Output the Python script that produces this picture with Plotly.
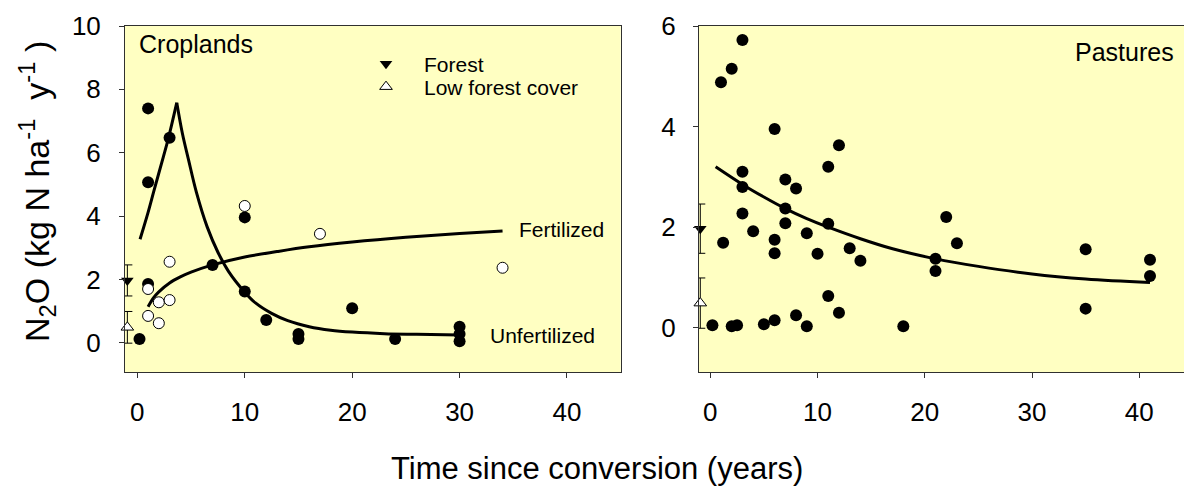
import plotly.graph_objects as go

# ---------------- data ----------------
# Croplands, unfertilized (filled circles)
crop_unf_x = [0.2, 1, 1, 3, 1, 7, 10, 10, 12, 15, 15, 20, 24, 30, 30, 30]
crop_unf_y = [0.12, 7.40, 5.07, 6.47, 1.86, 2.46, 3.96, 1.62, 0.72, 0.28, 0.12, 1.09, 0.12, 0.51, 0.28, 0.05]
# Croplands, fertilized (open circles)
crop_fert_x = [1, 1, 2, 2, 3, 3, 10, 17, 34]
crop_fert_y = [1.70, 0.85, 1.28, 0.62, 2.56, 1.35, 4.32, 3.44, 2.37]
# Fitted curves
unf_rise_x = [0.25, 1.0, 1.56, 2.42, 2.9, 3.67]
unf_rise_y = [3.27, 4.12, 4.82, 5.87, 6.47, 7.58]
unf_decay_x = [3.67, 4.2, 4.75, 5.5, 6.5, 7.5, 8.5, 10, 11, 12.5, 14, 16, 18, 20, 23, 26, 30]
unf_decay_y = [7.58, 6.60, 5.80, 4.75, 3.66, 2.86, 2.25, 1.60, 1.26, 0.93, 0.70, 0.51, 0.40, 0.34, 0.29, 0.27, 0.25]
fert_curve_x = [1.0, 1.5, 2, 3, 4, 5, 7, 10, 13, 16, 20, 25, 30, 34]
fert_curve_y = [1.14, 1.42, 1.61, 1.89, 2.08, 2.23, 2.46, 2.71, 2.88, 3.03, 3.18, 3.33, 3.45, 3.53]

# Pastures (filled circles)
past_x = [3, 2, 1, 6, 12, 11, 3, 3, 7, 8, 7, 3, 7, 11, 4, 9, 1.2, 6, 6, 10, 13, 14, 21, 21,
          11, 12, 8, 6, 0.2, 2, 2.5, 5, 9, 18, 22, 23, 35, 35, 41, 41]
past_y = [5.72, 5.15, 4.88, 3.95, 3.63, 3.20, 3.10, 2.80, 2.95, 2.77, 2.37, 2.27, 2.08, 2.07, 1.92, 1.88, 1.69, 1.75, 1.48, 1.47, 1.58, 1.33, 1.37, 1.13,
          0.63, 0.30, 0.25, 0.15, 0.05, 0.03, 0.05, 0.07, 0.03, 0.03, 2.20, 1.68, 1.56, 0.38, 1.35, 1.03]
past_curve_x = [0.5, 3, 5, 7, 9, 11, 14, 17, 21, 25, 30, 35, 41]
past_curve_y = [3.20, 2.85, 2.60, 2.37, 2.17, 2.00, 1.77, 1.57, 1.37, 1.22, 1.07, 0.97, 0.90]

# Reference values (mean +/- error)
ref_x = [-0.93]
forest_y = [1.97]
forest_err = [0.49]
lowforest_y = [0.49]
lowforest_err = [0.50]

FONT = "Arial, Liberation Sans, sans-serif"
BG = "rgb(255,255,194)"

fig = go.Figure()

def add(tr, panel):
    if panel == 2:
        tr.update(xaxis="x2", yaxis="y2")
    fig.add_trace(tr)

line_style = dict(color="black", width=3, shape="spline")
# Croplands curves
add(go.Scatter(x=unf_rise_x, y=unf_rise_y, mode="lines", line=line_style, showlegend=False), 1)
add(go.Scatter(x=unf_decay_x, y=unf_decay_y, mode="lines", line=line_style, showlegend=False), 1)
add(go.Scatter(x=fert_curve_x, y=fert_curve_y, mode="lines", line=line_style, showlegend=False), 1)
# Croplands points
add(go.Scatter(x=crop_unf_x, y=crop_unf_y, mode="markers",
               marker=dict(symbol="circle", size=12, color="black"), showlegend=False, cliponaxis=False), 1)
add(go.Scatter(x=crop_fert_x, y=crop_fert_y, mode="markers",
               marker=dict(symbol="circle", size=11, color="white", line=dict(color="black", width=1)),
               showlegend=False), 1)

# Reference markers for both panels
for p in (1, 2):
    add(go.Scatter(x=ref_x, y=forest_y, mode="markers", name="Forest", showlegend=(p == 1),
                   legend="legend",
                   error_y=dict(type="data", array=forest_err, color="black", thickness=1, width=5),
                   marker=dict(symbol="triangle-down", size=11, color="black"), cliponaxis=False), p)
    add(go.Scatter(x=ref_x, y=lowforest_y, mode="markers", name="Low forest cover", showlegend=(p == 1),
                   legend="legend2",
                   error_y=dict(type="data", array=lowforest_err, color="black", thickness=1, width=5),
                   marker=dict(symbol="triangle-up", size=11, color="white", line=dict(color="black", width=1)),
                   cliponaxis=False), p)

# Pastures
add(go.Scatter(x=past_curve_x, y=past_curve_y, mode="lines", line=line_style, showlegend=False), 2)
add(go.Scatter(x=past_x, y=past_y, mode="markers",
               marker=dict(symbol="circle", size=12, color="black"), showlegend=False, cliponaxis=False), 2)

W, H = 1184, 486
y_dom = [(H - 372) / H, (H - 26) / H]

axis_common = dict(showline=True, linecolor="#303030", linewidth=1, ticks="outside", ticklen=5,
                   tickcolor="#303030", showgrid=False, zeroline=False, automargin=False,
                   tickfont=dict(family=FONT, size=26, color="black"))

leg_common = dict(xanchor="left", yanchor="top", bgcolor="rgba(0,0,0,0)",
                  font=dict(family=FONT, size=21, color="black"), itemwidth=66)

fig.update_layout(
    width=W, height=H,
    margin=dict(l=0, r=0, t=0, b=0, autoexpand=False),
    paper_bgcolor="white",
    plot_bgcolor=BG,
    font=dict(family=FONT, color="black"),
    xaxis=dict(domain=[125 / W, 620.7 / W], range=[-1.15, 45.0], tickvals=[0, 10, 20, 30, 40],
               mirror=True, ticklabelstandoff=12, anchor="y", **axis_common),
    yaxis=dict(domain=y_dom, range=[-0.92, 10.0], tickvals=[0, 2, 4, 6, 8, 10],
               mirror=True, ticklabelstandoff=13, anchor="x", **axis_common),
    xaxis2=dict(domain=[699 / W, 1.0], range=[-1.05, 44.17], tickvals=[0, 10, 20, 30, 40],
                mirror=True, ticklabelstandoff=12, anchor="y2", **axis_common),
    yaxis2=dict(domain=y_dom, range=[-0.88, 6.0], tickvals=[0, 2, 4, 6],
                ticklabelstandoff=12, anchor="x2", **axis_common),
    legend=dict(x=348 / W, y=(H - 43.5) / H, **leg_common),
    legend2=dict(x=348 / W, y=(H - 66.5) / H, **leg_common),
    showlegend=True,
)

def ann(text, x, y, size, xanchor="left", angle=0):
    fig.add_annotation(text=text, xref="paper", yref="paper", x=x / W, y=(H - y) / H,
                       xanchor=xanchor, yanchor="middle", showarrow=False, textangle=angle,
                       font=dict(family=FONT, size=size, color="black"))

ann("Croplands", 137, 44, 25)
ann("Pastures", 1176, 52, 25, xanchor="right")
ann("Fertilized", 517, 230, 21)
ann("Unfertilized", 488, 335, 21)
ann("Time since conversion (years)", 597, 468, 31, xanchor="center")
ann("N<sub>2</sub>O (kg N ha<sup>-1</sup>\u00a0 y<sup>-1</sup>\u00a0)", 37, 192, 34,
    xanchor="center", angle=-90)

fig.write_html("out.html", config={"displayModeBar": False},
               post_script="document.body.style.margin='0px';")
